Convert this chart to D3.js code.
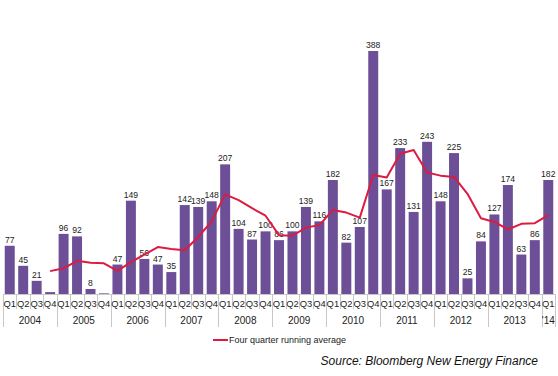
<!DOCTYPE html>
<html>
<head>
<meta charset="utf-8">
<script src="https://cdn.jsdelivr.net/npm/d3@7/dist/d3.min.js"></script>
<style>
  html, body { margin: 0; padding: 0; background: #fff; }
  svg { display: block; font-family: Arial, "Liberation Sans", sans-serif; }
</style>
</head>
<body>
<div id="chart"></div>
<script>
const years = ["2004", "2005", "2006", "2007", "2008", "2009", "2010", "2011", "2012", "2013", "'14"];
const quarters = ["Q1", "Q2", "Q3", "Q4"];

// valores por trimestre (2004 Q1 .. 2014 Q1)
const values = [
  77, 45, 21, 3,
  96, 92, 8, 1,
  47, 149, 56, 47,
  35, 142, 139, 148,
  207, 104, 87, 100,
  86, 100, 139, 116,
  182, 82, 107, 388,
  167, 233, 131, 243,
  148, 225, 25, 84,
  127, 174, 63, 86,
  182
];
const hiddenLabels = [3, 7]; // barras sin etiqueta

// media móvil de cuatro trimestres, desde 2004 Q4
const runningAvg = [
  36.5, 41, 53, 50, 49,
  37, 51, 63, 75,
  72, 70, 91, 116,
  159, 150, 137, 125,
  94, 93, 106, 110,
  134, 130, 122, 190,
  186, 224, 230, 194,
  189, 187, 160, 121,
  115, 103, 112, 113,
  126
];
const avgStart = 3;

const W = 558, H = 376;
const baseY = 294;

const svg = d3.select("#chart")
  .append("svg")
  .attr("width", W)
  .attr("height", H);

const cats = values.map((v, i) => i);

const x = d3.scaleBand()
  .domain(cats)
  .range([3, 555])
  .paddingInner(0.26)
  .paddingOuter(0.13);

const y = d3.scaleLinear()
  .domain([0, 388])
  .range([baseY, 51]);

// Barras
svg.append("g")
  .selectAll("rect")
  .data(values)
  .join("rect")
  .attr("x", (d, i) => x(i))
  .attr("y", d => y(d))
  .attr("width", x.bandwidth())
  .attr("height", d => baseY - y(d))
  .attr("fill", "#6c4f97");

// Etiquetas de valor
const labelData = values
  .map((v, i) => ({ v, i }))
  .filter(d => !hiddenLabels.includes(d.i));

svg.append("g")
  .selectAll("text")
  .data(labelData)
  .join("text")
  .attr("x", d => x(d.i) + x.bandwidth() / 2)
  .attr("y", d => y(d.v) - 3)
  .attr("text-anchor", "middle")
  .attr("font-size", "8.6px")
  .attr("fill", "#222")
  .text(d => d.v);

// Línea de media móvil
const line = d3.line()
  .x((d, i) => x(i + avgStart) + x.bandwidth() / 2)
  .y(d => y(d));

svg.append("path")
  .datum(runningAvg)
  .attr("d", line)
  .attr("fill", "none")
  .attr("stroke", "#dd1b40")
  .attr("stroke-width", 2)
  .attr("stroke-linejoin", "round");

// Eje
const axis = svg.append("g");
const step = x.step();
const x0 = 3;

axis.append("line")
  .attr("x1", x0).attr("x2", 555)
  .attr("y1", baseY + 0.5).attr("y2", baseY + 0.5)
  .attr("stroke", "#c8c8c8");

// separadores
for (let i = 0; i <= values.length; i++) {
  const sx = Math.round(x0 + i * step) + 0.5;
  const isYear = i % 4 === 0 || i === values.length;
  axis.append("line")
    .attr("x1", sx).attr("x2", sx)
    .attr("y1", baseY)
    .attr("y2", isYear ? 327 : 309)
    .attr("stroke", "#c8c8c8");
}

// etiquetas de trimestre
axis.selectAll("text.q")
  .data(values)
  .join("text")
  .attr("class", "q")
  .attr("x", (d, i) => x0 + (i + 0.5) * step)
  .attr("y", 307)
  .attr("text-anchor", "middle")
  .attr("font-size", "9.4px")
  .attr("fill", "#222")
  .text((d, i) => quarters[i % 4]);

// etiquetas de año
axis.selectAll("text.yr")
  .data(years)
  .join("text")
  .attr("class", "yr")
  .attr("x", (d, i) => {
    const n = Math.min(4, values.length - i * 4);
    return x0 + (i * 4 + n / 2) * step;
  })
  .attr("y", 324)
  .attr("text-anchor", "middle")
  .attr("font-size", "10px")
  .attr("fill", "#222")
  .text(d => d);

// Leyenda
svg.append("line")
  .attr("x1", 213).attr("x2", 228)
  .attr("y1", 340).attr("y2", 340)
  .attr("stroke", "#dd1b40")
  .attr("stroke-width", 2);

svg.append("text")
  .attr("x", 229)
  .attr("y", 343)
  .attr("font-size", "9px")
  .attr("fill", "#222")
  .text("Four quarter running average");

svg.append("text")
  .attr("x", 538)
  .attr("y", 365)
  .attr("text-anchor", "end")
  .attr("font-size", "12px")
  .attr("font-style", "italic")
  .attr("fill", "#111")
  .text("Source: Bloomberg New Energy Finance");
</script>
</body>
</html>
